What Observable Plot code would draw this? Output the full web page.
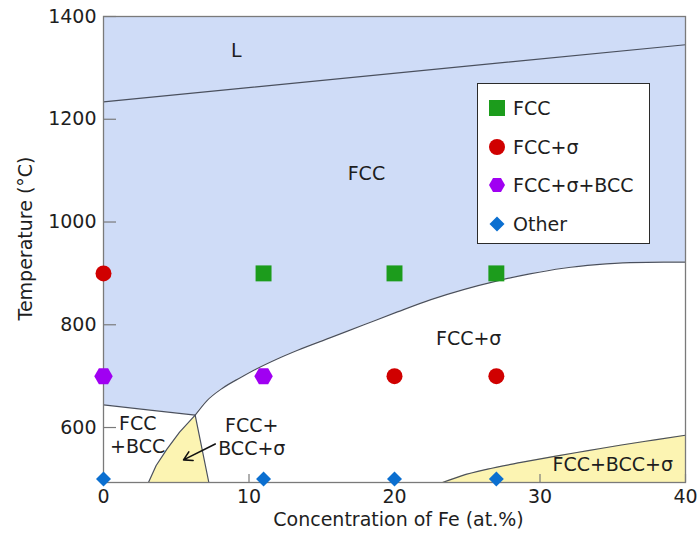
<!DOCTYPE html>
<html>
<head>
<meta charset="utf-8">
<script src="https://cdn.jsdelivr.net/npm/d3@7"></script>
<script src="https://cdn.jsdelivr.net/npm/@observablehq/plot@0.6"></script>
<style>
  body { margin: 0; background: #fff; }
  #wrap { position: relative; width: 699px; height: 533px; font-family: "DejaVu Sans", sans-serif; color: #1e1e1e; }
  #wrap svg.plot { position: absolute; left: 0; top: 0; }
  .legend { position: absolute; left: 477px; top: 83px; width: 173px; height: 161px; box-sizing: border-box;
            border: 1.5px solid #2b2b2b; background: #fff; }
  .legend .item { position: absolute; left: 0; height: 24px; display: flex; align-items: center; font-size: 19px; white-space: nowrap; }
  .legend .item svg { width: 20px; height: 20px; margin-left: 9px; margin-right: 6px; overflow: visible; }
</style>
</head>
<body>
<div id="wrap"></div>
<script>
// ---------- data ----------
const seriesNames  = ["FCC", "FCC+σ", "FCC+σ+BCC", "Other"];
const seriesColors = ["#1c9c1c", "#d00000", "#a000f2", "#0b6fd0"];

// measured points (Fe at.%, °C)
const fccPts          = [[11, 900], [20, 900], [27, 900]];
const fccSigmaPts     = [[0, 900], [20, 700], [27, 700]];
const fccSigmaBccPts  = [[0, 700], [11, 700]];
const otherPts        = [[0, 500], [11, 500], [20, 500], [27, 500]];

// axes
const xDomain = [0, 40];
const yDomain = [493, 1400];
const xTicks = [0, 10, 20, 30, 40];
const yTicks = [600, 800, 1000, 1200, 1400];
const xTitle = "Concentration of Fe (at.%)";
const yTitle = "Temperature (°C)";

// phase boundaries
const liquidusLine = [[0, 1234], [40, 1345]];
const fccBccLine   = [[0, 644], [3.2, 634], [6.3, 624]];
const fccSolvus    = [[6.3, 624], [7.1, 652], [8.2, 677], [9.4, 697], [10.5, 714], [11.9, 733], [13.3, 750],
                      [15.6, 775], [17.9, 800], [20.2, 825], [22.5, 849], [24.8, 869], [27, 885], [29.3, 899],
                      [31.6, 910], [33.9, 917], [36.2, 921], [38.5, 922], [40, 922]];
const triRegion    = [[3.09, 493], [3.62, 526], [4.36, 558], [5.23, 591], [6.3, 624], [7.24, 493]];
const sigmaBccLine = [[23.3, 493], [24.6, 506], [26.4, 519], [28.7, 532], [31, 544], [33.3, 555],
                      [35.6, 566], [37.9, 576], [40, 585]];

// region labels
const labelText = ["L", "FCC", "FCC+σ", "FCC\n+BCC", "FCC+\nBCC+σ", "FCC+BCC+σ"];
const labelX    = [9.13, 18.07, 25.1, 2.35, 10.19, 35.0];
const labelT    = [1336, 1097, 776, 587.5, 584, 529];
const arrowSeg  = [[7.68, 568, 5.5, 537]];

// ---------- styles ----------
const blueFill = "#cfdcf7";
const yellowFill = "#fcf4b2";
const boundary = "#4a505e";
const frameGray = "#7a7a7a";
const ink = "#1e1e1e";

const W = 699, H = 533, mL = 103, mR = 14, mT = 16, mB = 51;
const innerW = W - mL - mR, innerH = H - mT - mB;

const X = d => d[0], T = d => d[1];
const labels = labelText.map((t, i) => ({t, x: labelX[i], y: labelT[i]}));

const plot = Plot.plot({
  width: W, height: H,
  marginLeft: mL, marginRight: mR, marginTop: mT, marginBottom: mB,
  style: {fontFamily: "DejaVu Sans", fontSize: "19px", color: ink, background: "transparent"},
  x: {domain: xDomain},
  y: {domain: yDomain},
  marks: [
    Plot.frame({fill: blueFill, stroke: "none"}),
    Plot.areaY(fccBccLine, {x: X, y1: yDomain[0], y2: T, fill: "white", curve: "linear"}),
    Plot.areaY(fccSolvus, {x: X, y1: yDomain[0], y2: T, fill: "white", curve: "monotone-x"}),
    Plot.areaY(sigmaBccLine, {x: X, y1: yDomain[0], y2: T, fill: yellowFill, curve: "monotone-x"}),
    Plot.line(triRegion, {x: X, y: T, fill: yellowFill, stroke: boundary, strokeWidth: 1.2, curve: "linear-closed"}),
    Plot.line(liquidusLine, {x: X, y: T, stroke: boundary, strokeWidth: 1.2}),
    Plot.line(fccBccLine, {x: X, y: T, stroke: boundary, strokeWidth: 1.2}),
    Plot.line(fccSolvus, {x: X, y: T, stroke: boundary, strokeWidth: 1.2, curve: "monotone-x"}),
    Plot.line(sigmaBccLine, {x: X, y: T, stroke: boundary, strokeWidth: 1.2, curve: "monotone-x"}),
    // inward ticks
    Plot.tickY(yTicks, {y: d => d, stroke: frameGray, strokeWidth: 1.2, insetRight: innerW - 13}),
    Plot.tickX(xTicks, {x: d => d, stroke: frameGray, strokeWidth: 1.2, insetTop: innerH - 8}),
    Plot.frame({stroke: frameGray, strokeWidth: 1.3}),
    Plot.axisX(xTicks, {tickSize: 0, tickPadding: 7, fill: ink, tickFormat: d => String(d), label: null}),
    Plot.axisY(yTicks, {tickSize: 0, tickPadding: 7, fill: ink, tickFormat: d => String(d), label: null}),
    Plot.text([xTitle], {text: d => d, frameAnchor: "bottom", textAnchor: "middle", lineAnchor: "middle", dx: 4, dy: 37, fill: ink}),
    Plot.text([yTitle], {text: d => d, frameAnchor: "left", textAnchor: "middle", lineAnchor: "middle", rotate: -90, dx: -78, dy: -11, fill: ink}),
    Plot.text(labels, {x: "x", y: "y", text: "t", fill: ink, lineHeight: 1.23}),
    Plot.arrow(arrowSeg, {x1: d => d[0], y1: d => d[1], x2: d => d[2], y2: d => d[3], stroke: "#111", strokeWidth: 1.6, headLength: 9}),
    Plot.dot(fccPts, {x: X, y: T, symbol: "square", r: 9, fill: seriesColors[0], stroke: "none"}),
    Plot.dot(fccSigmaPts, {x: X, y: T, symbol: "circle", r: 8, fill: seriesColors[1], stroke: "none"}),
    Plot.dot(fccSigmaBccPts, {x: X, y: T, symbol: "hexagon", r: 8, rotate: 90, fill: seriesColors[2], stroke: "none"}),
    Plot.dot(otherPts, {x: X, y: T, symbol: "diamond2", r: 6.75, fill: seriesColors[3], stroke: "none"})
  ]
});

const wrap = document.getElementById("wrap");
wrap.appendChild(plot);

// ---------- legend ----------
const markerSvg = [
  c => `<rect x="-8" y="-8" width="16" height="16" fill="${c}"/>`,
  c => `<circle r="8" fill="${c}"/>`,
  c => `<path d="M-8,0L-4,-6.93L4,-6.93L8,0L4,6.93L-4,6.93Z" fill="${c}"/>`,
  c => `<path d="M0,-7.5L7.5,0L0,7.5L-7.5,0Z" fill="${c}"/>`
];
const legend = document.createElement("div");
legend.className = "legend";
const rowTops = [12, 51, 89, 128];
seriesNames.forEach((name, i) => {
  const item = document.createElement("div");
  item.className = "item";
  item.style.top = rowTops[i] + "px";
  item.innerHTML = `<svg viewBox="-10 -10 20 20">${markerSvg[i](seriesColors[i])}</svg><span>${name}</span>`;
  legend.appendChild(item);
});
wrap.appendChild(legend);
</script>
</body>
</html>
